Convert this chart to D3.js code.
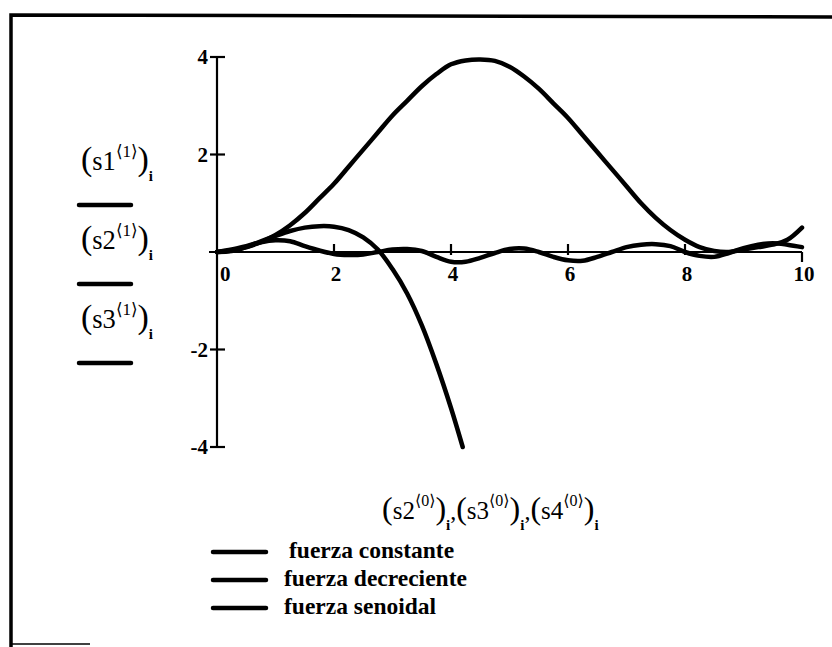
<!DOCTYPE html>
<html>
<head>
<meta charset="utf-8">
<script src="https://cdn.jsdelivr.net/npm/d3@7"></script>
<style>
  body { margin: 0; background: #fff; }
  svg { display: block; }
</style>
</head>
<body>
<div id="chart"></div>
<script>
// values
const xValues = [0, 0.25, 0.5, 0.75, 1, 1.25, 1.5, 1.75, 2, 2.25, 2.5, 2.75, 3, 3.25, 3.5, 3.75,
    4, 4.25, 4.5, 4.75, 5, 5.25, 5.5, 5.75, 6, 6.25, 6.5, 6.75, 7, 7.25, 7.5, 7.75,
    8, 8.25, 8.5, 8.75, 9, 9.25, 9.5, 9.75, 10];

// fuerza constante
const s1Values = [0, 0.02, 0.1, 0.2, 0.35, 0.55, 0.8, 1.1, 1.4, 1.75, 2.1, 2.45, 2.8, 3.1, 3.4, 3.65,
    3.85, 3.93, 3.95, 3.92, 3.8, 3.6, 3.35, 3.05, 2.75, 2.4, 2.05, 1.7, 1.35, 1.0, 0.7, 0.45,
    0.25, 0.1, 0.02, 0, 0.05, 0.1, 0.15, 0.25, 0.5];

// fuerza decreciente (stops at -4)
const s2X = [0, 0.25, 0.5, 0.75, 1, 1.25, 1.5, 1.75, 2, 2.25, 2.5, 2.75, 3, 3.25, 3.5, 3.75, 4, 4.2];
const s2Values = [0, 0.03, 0.1, 0.22, 0.33, 0.43, 0.5, 0.53, 0.52, 0.45, 0.3, 0.05, -0.35, -0.85,
    -1.5, -2.3, -3.2, -4.0];

// fuerza senoidal
const s3Values = [0, 0.05, 0.12, 0.2, 0.24, 0.22, 0.12, 0.03, -0.04, -0.06, -0.05, 0, 0.05, 0.06, 0.02, -0.1,
    -0.2, -0.2, -0.12, -0.02, 0.06, 0.07, 0, -0.1, -0.17, -0.18, -0.1, 0, 0.1, 0.15, 0.16, 0.12,
    0, -0.08, -0.1, -0.02, 0.08, 0.15, 0.18, 0.15, 0.1];

const xTicks = [0, 2, 4, 6, 8, 10];
const yTicks = [4, 2, -2, -4];
const yLabelNames = ['s1', 's2', 's3'];
const xLabelNames = ['s2', 's3', 's4'];
const legendNames = ['fuerza constante', 'fuerza decreciente', 'fuerza senoidal'];

function drawChart() {
    const width = 832;
    const height = 647;

    const svg = d3.select('#chart')
        .append('svg')
        .attr('width', width)
        .attr('height', height)
        .attr('font-family', '"Liberation Serif", "DejaVu Serif", serif');

    // frame of the Mathcad region
    svg.append('path')
        .attr('d', 'M 11 648 L 11 15 L 834 17')
        .attr('fill', 'none')
        .attr('stroke', '#000')
        .attr('stroke-width', 3.5);
    svg.append('line')
        .attr('x1', 11).attr('x2', 90)
        .attr('y1', 644).attr('y2', 644)
        .attr('stroke', '#000')
        .attr('stroke-width', 1.5);

    const x = d3.scaleLinear().domain([0, 10]).range([217, 802]);
    const y = d3.scaleLinear().domain([-4, 4]).range([447, 57]);

    // axes crossing at the origin
    const axes = svg.append('g').attr('stroke', '#000').attr('stroke-width', 2.2);
    axes.append('line')
        .attr('x1', x(0)).attr('x2', x(0))
        .attr('y1', y(4)).attr('y2', y(-4));
    axes.append('line')
        .attr('x1', x(0) - 8).attr('x2', x(10))
        .attr('y1', y(0)).attr('y2', y(0));

    axes.selectAll('.ytick')
        .data(yTicks)
        .enter()
        .append('line')
        .attr('x1', x(0) - 7).attr('x2', x(0) + 8)
        .attr('y1', d => y(d)).attr('y2', d => y(d));

    axes.selectAll('.xtick')
        .data(xTicks.filter(d => d > 0))
        .enter()
        .append('line')
        .attr('x1', d => x(d)).attr('x2', d => x(d))
        .attr('y1', d => y(0) - (d === 10 ? 0 : 8))
        .attr('y2', d => y(0) + (d === 10 ? 10 : 3));

    svg.append('g')
        .selectAll('text')
        .data(yTicks)
        .enter()
        .append('text')
        .attr('x', x(0) - 9)
        .attr('y', d => y(d) + 7)
        .attr('text-anchor', 'end')
        .attr('font-size', 21)
        .attr('font-weight', 'bold')
        .text(d => d < 0 ? '-' + Math.abs(d) : d);

    svg.append('g')
        .selectAll('text')
        .data(xTicks)
        .enter()
        .append('text')
        .attr('x', d => d === 0 ? x(0) + 3 : x(d) + 2)
        .attr('y', y(0) + 29)
        .attr('text-anchor', d => d === 0 ? 'start' : 'middle')
        .attr('font-size', 21)
        .attr('font-weight', 'bold')
        .text(d => d);

    // traces
    const line = d3.line()
        .x(d => x(d[0]))
        .y(d => y(d[1]))
        .curve(d3.curveCatmullRom.alpha(0.5));

    const traces = [
        d3.zip(xValues, s1Values),
        d3.zip(s2X, s2Values),
        d3.zip(xValues, s3Values)
    ];

    svg.append('g')
        .selectAll('path')
        .data(traces)
        .enter()
        .append('path')
        .attr('d', line)
        .attr('fill', 'none')
        .attr('stroke', '#000')
        .attr('stroke-width', 4.5)
        .attr('stroke-linejoin', 'round')
        .attr('stroke-linecap', 'round');

    // "(s1<1>)i" style math expression
    function mathTerm(sel, name, idx, comma, big) {
        const k = big ? 1.06 : 1;
        sel.append('tspan').attr('font-size', 32 * k).text('(');
        sel.append('tspan').attr('font-size', 25 * k).text(name);
        sel.append('tspan').attr('font-size', 16 * k).attr('dy', -13).text('\u27E8' + idx + '\u27E9');
        sel.append('tspan').attr('font-size', 32 * k).attr('dy', 13).text(')');
        sel.append('tspan').attr('font-size', 15).attr('font-weight', 'bold').attr('dy', 11).text('i');
        if (comma) {
            sel.append('tspan').attr('font-size', 24).attr('dy', -11).text(',');
        }
    }

    // y-axis expressions with their trace markers
    const yLabel = svg.append('g');
    yLabelNames.forEach((name, k) => {
        const base = 170 + k * 79;
        const t = yLabel.append('text').attr('x', 81).attr('y', base);
        mathTerm(t, name, 1, false, true);
        yLabel.append('line')
            .attr('x1', 79).attr('x2', 131)
            .attr('y1', base + 35).attr('y2', base + 35)
            .attr('stroke', '#000')
            .attr('stroke-width', 4.5)
            .attr('stroke-linecap', 'round');
    });

    // x-axis expression
    const xLabel = svg.append('text').attr('x', 382).attr('y', 519);
    xLabelNames.forEach((name, k) => {
        mathTerm(xLabel, name, 0, k < xLabelNames.length - 1, false);
    });

    // legend
    const legend = svg.append('g');
    legendNames.forEach((name, k) => {
        const ly = 552 + k * 28;
        legend.append('line')
            .attr('x1', 213).attr('x2', 266)
            .attr('y1', ly).attr('y2', ly)
            .attr('stroke', '#000')
            .attr('stroke-width', 4.5)
            .attr('stroke-linecap', 'round');
        legend.append('text')
            .attr('x', k === 0 ? 289 : 284)
            .attr('y', ly + 6)
            .attr('font-size', 23.5)
            .attr('font-weight', 'bold')
            .text(name);
    });
}

document.addEventListener('DOMContentLoaded', drawChart);
</script>
</body>
</html>
